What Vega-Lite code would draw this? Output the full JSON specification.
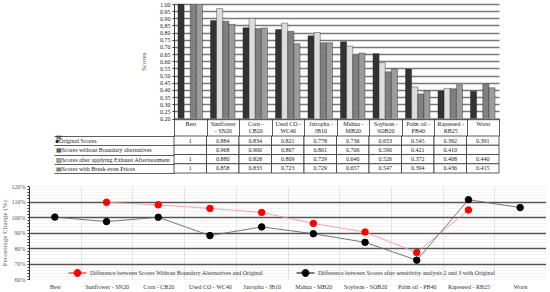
{
  "$schema": "https://vega.github.io/schema/vega-lite/v6.json",
  "background": "white",
  "padding": {"left": 0, "top": 1, "right": 0, "bottom": 0},
  "config": {
    "font": "Liberation Serif",
    "view": {"stroke": null},
    "axis": {"labelFont": "Liberation Serif", "titleFont": "Liberation Serif"},
    "legend": {"labelFont": "Liberation Serif"}
  },
  "datasets": {
    "scores": [
      {"category": "Best", "series": "Original Scores", "score": 1},
      {"category": "Best", "series": "Scores without Boundary alternatives", "score": null},
      {"category": "Best", "series": "Scores after applying Exhaust Aftertreatment", "score": 1},
      {"category": "Best", "series": "Scores with Break-even Prices", "score": 1},
      {"category": "Sunflower - SN20", "series": "Original Scores", "score": 0.884},
      {"category": "Sunflower - SN20", "series": "Scores without Boundary alternatives", "score": 0.968},
      {"category": "Sunflower - SN20", "series": "Scores after applying Exhaust Aftertreatment", "score": 0.880},
      {"category": "Sunflower - SN20", "series": "Scores with Break-even Prices", "score": 0.858},
      {"category": "Corn - CB20", "series": "Original Scores", "score": 0.834},
      {"category": "Corn - CB20", "series": "Scores without Boundary alternatives", "score": 0.900},
      {"category": "Corn - CB20", "series": "Scores after applying Exhaust Aftertreatment", "score": 0.828},
      {"category": "Corn - CB20", "series": "Scores with Break-even Prices", "score": 0.833},
      {"category": "Used CO - WC40", "series": "Original Scores", "score": 0.821},
      {"category": "Used CO - WC40", "series": "Scores without Boundary alternatives", "score": 0.867},
      {"category": "Used CO - WC40", "series": "Scores after applying Exhaust Aftertreatment", "score": 0.809},
      {"category": "Used CO - WC40", "series": "Scores with Break-even Prices", "score": 0.723},
      {"category": "Jatropha - JB10", "series": "Original Scores", "score": 0.778},
      {"category": "Jatropha - JB10", "series": "Scores without Boundary alternatives", "score": 0.801},
      {"category": "Jatropha - JB10", "series": "Scores after applying Exhaust Aftertreatment", "score": 0.729},
      {"category": "Jatropha - JB10", "series": "Scores with Break-even Prices", "score": 0.729},
      {"category": "Mahua - MB20", "series": "Original Scores", "score": 0.736},
      {"category": "Mahua - MB20", "series": "Scores without Boundary alternatives", "score": 0.706},
      {"category": "Mahua - MB20", "series": "Scores after applying Exhaust Aftertreatment", "score": 0.640},
      {"category": "Mahua - MB20", "series": "Scores with Break-even Prices", "score": 0.657},
      {"category": "Soybean - SOB20", "series": "Original Scores", "score": 0.653},
      {"category": "Soybean - SOB20", "series": "Scores without Boundary alternatives", "score": 0.590},
      {"category": "Soybean - SOB20", "series": "Scores after applying Exhaust Aftertreatment", "score": 0.526},
      {"category": "Soybean - SOB20", "series": "Scores with Break-even Prices", "score": 0.547},
      {"category": "Palm oil - PB40", "series": "Original Scores", "score": 0.545},
      {"category": "Palm oil - PB40", "series": "Scores without Boundary alternatives", "score": 0.421},
      {"category": "Palm oil - PB40", "series": "Scores after applying Exhaust Aftertreatment", "score": 0.372},
      {"category": "Palm oil - PB40", "series": "Scores with Break-even Prices", "score": 0.394},
      {"category": "Rapeseed - RB25", "series": "Original Scores", "score": 0.392},
      {"category": "Rapeseed - RB25", "series": "Scores without Boundary alternatives", "score": 0.410},
      {"category": "Rapeseed - RB25", "series": "Scores after applying Exhaust Aftertreatment", "score": 0.408},
      {"category": "Rapeseed - RB25", "series": "Scores with Break-even Prices", "score": 0.436},
      {"category": "Worst", "series": "Original Scores", "score": 0.391},
      {"category": "Worst", "series": "Scores without Boundary alternatives", "score": null},
      {"category": "Worst", "series": "Scores after applying Exhaust Aftertreatment", "score": 0.440},
      {"category": "Worst", "series": "Scores with Break-even Prices", "score": 0.415}
    ],
    "pct": [
      {"category": "Sunflower - SN20", "series": "Difference between Scores Without Boundary Alternatives and Original", "change": 1.095},
      {"category": "Corn - CB20", "series": "Difference between Scores Without Boundary Alternatives and Original", "change": 1.079},
      {"category": "Used CO - WC40", "series": "Difference between Scores Without Boundary Alternatives and Original", "change": 1.056},
      {"category": "Jatropha - JB10", "series": "Difference between Scores Without Boundary Alternatives and Original", "change": 1.030},
      {"category": "Mahua - MB20", "series": "Difference between Scores Without Boundary Alternatives and Original", "change": 0.959},
      {"category": "Soybean - SOB20", "series": "Difference between Scores Without Boundary Alternatives and Original", "change": 0.904},
      {"category": "Palm oil - PB40", "series": "Difference between Scores Without Boundary Alternatives and Original", "change": 0.772},
      {"category": "Rapeseed - RB25", "series": "Difference between Scores Without Boundary Alternatives and Original", "change": 1.046},
      {"category": "Best", "series": "Difference between Scores after sensitivity analysis 2 and 3 with Original", "change": 1.0},
      {"category": "Sunflower - SN20", "series": "Difference between Scores after sensitivity analysis 2 and 3 with Original", "change": 0.971},
      {"category": "Corn - CB20", "series": "Difference between Scores after sensitivity analysis 2 and 3 with Original", "change": 0.999},
      {"category": "Used CO - WC40", "series": "Difference between Scores after sensitivity analysis 2 and 3 with Original", "change": 0.881},
      {"category": "Jatropha - JB10", "series": "Difference between Scores after sensitivity analysis 2 and 3 with Original", "change": 0.937},
      {"category": "Mahua - MB20", "series": "Difference between Scores after sensitivity analysis 2 and 3 with Original", "change": 0.893},
      {"category": "Soybean - SOB20", "series": "Difference between Scores after sensitivity analysis 2 and 3 with Original", "change": 0.838},
      {"category": "Palm oil - PB40", "series": "Difference between Scores after sensitivity analysis 2 and 3 with Original", "change": 0.723},
      {"category": "Rapeseed - RB25", "series": "Difference between Scores after sensitivity analysis 2 and 3 with Original", "change": 1.112},
      {"category": "Worst", "series": "Difference between Scores after sensitivity analysis 2 and 3 with Original", "change": 1.061}
    ]
  },
  "spacing": 9,
  "vconcat": [
    {
      "bounds": "flush",
      "spacing": 144,
      "hconcat": [
        {
          "width": 1,
          "height": 10,
          "data": {"values": [{"a": 1}]},
          "mark": {"type": "point", "opacity": 0},
          "encoding": {}
        },
        {
          "bounds": "flush",
          "spacing": 17,
          "vconcat": [
            {
              "width": 325,
              "height": 114.5,
              "data": {"name": "scores"},
              "transform": [{"filter": "isValid(datum.score)"}],
              "mark": {"type": "bar", "stroke": "#222222", "strokeWidth": 0.4, "clip": true},
              "encoding": {
                "x": {
                  "field": "category", "type": "nominal",
                  "sort": ["Best", "Sunflower - SN20", "Corn - CB20", "Used CO - WC40", "Jatropha - JB10", "Mahua - MB20", "Soybean - SOB20", "Palm oil - PB40", "Rapeseed - RB25", "Worst"],
                  "scale": {"paddingInner": 0, "paddingOuter": 0},
                  "title": null,
                  "axis": {
                    "orient": "bottom", "domain": true, "domainColor": "#333333", "domainWidth": 0.8,
                    "ticks": true, "tickBand": "extent", "tickSize": 17, "tickColor": "#333333", "tickWidth": 0.8,
                    "labelAngle": 0, "labelFontSize": 6, "labelColor": "#222222", "labelPadding": -15, "labelBaseline": "top",
                    "labelLineHeight": 7, "labelOverlap": false, "labelBound": false, "labelLimit": 0, "grid": false,
                    "labelExpr": "indexof(datum.label, ' - ') < 0 ? datum.label : (datum.label == 'Sunflower - SN20' ? ['Sunflower', '- SN20'] : [slice(datum.label, 0, indexof(datum.label, ' - ')) + ' -', slice(datum.label, indexof(datum.label, ' - ') + 3)])"
                  }
                },
                "xOffset": {
                  "field": "series", "type": "nominal",
                  "sort": ["Original Scores", "Scores without Boundary alternatives", "Scores after applying Exhaust Aftertreatment", "Scores with Break-even Prices"],
                  "scale": {"paddingOuter": 0.65, "paddingInner": 0}
                },
                "y": {
                  "field": "score", "type": "quantitative",
                  "scale": {"domain": [0.2, 1.0], "nice": false},
                  "title": "Scores",
                  "axis": {
                    "values": [0.2, 0.25, 0.3, 0.35, 0.4, 0.45, 0.5, 0.55, 0.6, 0.65, 0.7, 0.75, 0.8, 0.85, 0.9, 0.95, 1.0],
                    "format": ".2f", "labelFontSize": 6, "labelColor": "#222222", "labelPadding": 2,
                    "grid": true, "gridColor": "#7a7a7a", "gridWidth": 1.3,
                    "domain": true, "domainColor": "#333333", "ticks": true, "tickSize": 2, "tickColor": "#333333",
                    "titleFontSize": 7, "titleColor": "#555555", "titleFontWeight": "normal", "titlePadding": 13
                  }
                },
                "color": {
                  "field": "series", "type": "nominal",
                  "scale": {
                    "domain": ["Original Scores", "Scores without Boundary alternatives", "Scores after applying Exhaust Aftertreatment", "Scores with Break-even Prices"],
                    "range": ["#333333", "#dddddd", "#808080", "#9c9c9c"]
                  },
                  "legend": null
                }
              }
            },
            {
              "width": 325,
              "height": 37,
              "data": {"name": "scores"},
              "encoding": {
                "x": {
                  "field": "category", "type": "nominal",
                  "sort": ["Best", "Sunflower - SN20", "Corn - CB20", "Used CO - WC40", "Jatropha - JB10", "Mahua - MB20", "Soybean - SOB20", "Palm oil - PB40", "Rapeseed - RB25", "Worst"],
                  "scale": {"paddingInner": 0, "paddingOuter": 0},
                  "axis": null
                },
                "y": {
                  "field": "series", "type": "nominal",
                  "sort": ["Original Scores", "Scores without Boundary alternatives", "Scores after applying Exhaust Aftertreatment", "Scores with Break-even Prices"],
                  "scale": {"paddingInner": 0, "paddingOuter": 0},
                  "axis": {
                    "title": null, "orient": "left", "domain": false,
                    "ticks": true, "tickBand": "extent", "tickSize": 120, "tickColor": "#333333", "tickWidth": 0.8,
                    "labelAlign": "left", "labelPadding": -1, "labelFontSize": 6, "labelColor": "#222222", "labelLimit": 0,
                    "labelExpr": "(datum.label == 'Original Scores' ? '■' : datum.label == 'Scores without Boundary alternatives' ? '▦' : datum.label == 'Scores after applying Exhaust Aftertreatment' ? '▧' : '▤') + datum.label"
                  }
                }
              },
              "layer": [
                {"mark": {"type": "rect", "fill": "white", "stroke": "#333333", "strokeWidth": 0.8}},
                {
                  "transform": [{"filter": "isValid(datum.score)"}],
                  "mark": {"type": "text", "fontSize": 6, "color": "#222222"},
                  "encoding": {
                    "text": {"condition": {"test": "datum.score == 1", "value": "1"}, "field": "score", "type": "quantitative", "format": ".3f"}
                  }
                }
              ]
            }
          ]
        }
      ]
    },
    {
      "width": 517,
      "height": 93.3,
      "data": {"name": "pct"},
      "encoding": {
        "x": {
          "field": "category", "type": "nominal",
          "sort": ["Best", "Sunflower - SN20", "Corn - CB20", "Used CO - WC40", "Jatropha - JB10", "Mahua - MB20", "Soybean - SOB20", "Palm oil - PB40", "Rapeseed - RB25", "Worst"],
          "scale": {"domain": ["Best", "Sunflower - SN20", "Corn - CB20", "Used CO - WC40", "Jatropha - JB10", "Mahua - MB20", "Soybean - SOB20", "Palm oil - PB40", "Rapeseed - RB25", "Worst"], "paddingInner": 0, "paddingOuter": 0},
          "title": null,
          "axis": {
            "labelAngle": 0, "labelFontSize": 6, "labelColor": "#333333", "labelPadding": 4,
            "domain": false, "ticks": false, "grid": true, "tickBand": "extent", "gridColor": "#d9d9d9", "gridWidth": 0.7
          }
        },
        "y": {
          "field": "change", "type": "quantitative",
          "scale": {"domain": [0.6, 1.2], "nice": false},
          "title": "Percentage Change (%)",
          "axis": {
            "values": [0.6, 0.62, 0.64, 0.66, 0.68, 0.7, 0.72, 0.74, 0.76, 0.78, 0.8, 0.82, 0.84, 0.86, 0.88, 0.9, 0.92, 0.94, 0.96, 0.98, 1.0, 1.02, 1.04, 1.06, 1.08, 1.1, 1.12, 1.14, 1.16, 1.18, 1.2],
            "labelExpr": "round(datum.value * 100) % 10 == 0 ? format(datum.value, '.0%') : ''",
            "labelFontSize": 6, "labelColor": "#555555", "labelOverlap": false, "labelPadding": 2,
            "grid": true,
            "gridColor": {"condition": {"test": "round(datum.value * 100) % 10 == 0 && datum.value > 0.61 && datum.value < 1.19", "value": "#555555"}, "value": "#e6e6e6"},
            "gridWidth": {"condition": {"test": "round(datum.value * 100) % 10 == 0 && datum.value > 0.61 && datum.value < 1.19", "value": 1.5}, "value": 0.5},
            "domain": true, "domainColor": "#333333", "ticks": true, "tickSize": 2, "tickColor": "#333333",
            "titleFontSize": 7, "titleColor": "#666666", "titleFontWeight": "normal"
          }
        }
      },
      "layer": [
        {
          "transform": [{"filter": "datum.series == 'Difference between Scores Without Boundary Alternatives and Original'"}],
          "mark": {"type": "line", "strokeWidth": 0.9, "color": "#f29a9a"}
        },
        {
          "transform": [{"filter": "datum.series == 'Difference between Scores after sensitivity analysis 2 and 3 with Original'"}],
          "mark": {"type": "line", "strokeWidth": 0.9, "color": "#666666"}
        },
        {
          "mark": {"type": "point", "filled": true, "size": 42, "opacity": 1, "strokeWidth": 1},
          "encoding": {
            "fill": {
              "field": "series", "type": "nominal",
              "scale": {
                "domain": ["Difference between Scores Without Boundary Alternatives and Original", "Difference between Scores after sensitivity analysis 2 and 3 with Original"],
                "range": ["#ff0000", "#000000"]
              },
              "legend": {
                "title": null, "orient": "none", "legendX": 39, "legendY": 259, "direction": "horizontal",
                "symbolType": "M-1,0L-0.4,0M0.4,0L1,0M-0.39,0A0.39,0.39,0,1,1,0.39,0A0.39,0.39,0,1,1,-0.39,0Z",
                "symbolSize": 324, "symbolStrokeWidth": 1, "labelFontSize": 6, "labelColor": "#333333",
                "labelOffset": 3, "columnPadding": 30, "labelLimit": 0
              }
            },
            "stroke": {
              "field": "series", "type": "nominal",
              "scale": {
                "domain": ["Difference between Scores Without Boundary Alternatives and Original", "Difference between Scores after sensitivity analysis 2 and 3 with Original"],
                "range": ["#ff0000", "#000000"]
              },
              "legend": {
                "title": null, "orient": "none", "legendX": 39, "legendY": 259, "direction": "horizontal",
                "symbolType": "M-1,0L-0.4,0M0.4,0L1,0M-0.39,0A0.39,0.39,0,1,1,0.39,0A0.39,0.39,0,1,1,-0.39,0Z",
                "symbolSize": 324, "symbolStrokeWidth": 1, "labelFontSize": 6, "labelColor": "#333333",
                "labelOffset": 3, "columnPadding": 30, "labelLimit": 0
              }
            }
          }
        }
      ]
    }
  ]
}
